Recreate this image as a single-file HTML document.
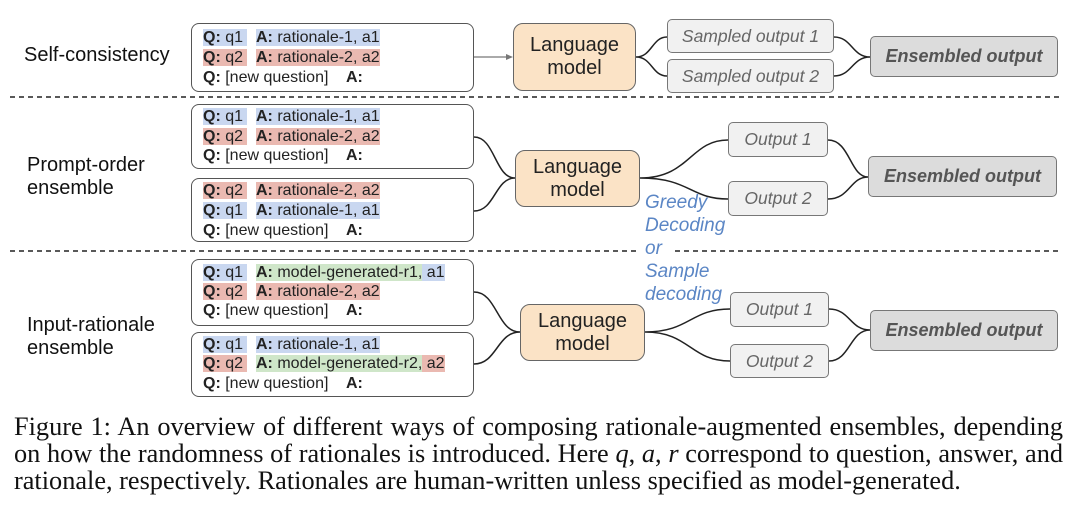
<!DOCTYPE html>
<html><head><meta charset="utf-8"><style>
body{margin:0;width:1080px;height:505px;background:#fff;position:relative;overflow:hidden;font-family:"Liberation Sans",sans-serif;}
.a{position:absolute;}
.box{position:absolute;border:1.5px solid #555;border-radius:8px;box-sizing:border-box;background:#fff;}
.row{position:absolute;font-size:16px;line-height:18px;color:#222;white-space:nowrap;}
.b{background:#c9d7f0}.r{background:#eab9b1}.g{background:#cfe6c9}
.lm{position:absolute;background:#fbe3c6;border:1.5px solid #666;border-radius:10px;box-sizing:border-box;font-size:20px;line-height:23px;text-align:center;color:#222;display:flex;align-items:center;justify-content:center;}
.out{position:absolute;background:#f1f1f1;border:1.5px solid #777;border-radius:5px;box-sizing:border-box;font-style:italic;color:#666;font-size:17.5px;display:flex;align-items:center;justify-content:center;white-space:nowrap;}
.ens{position:absolute;background:#dcdcdc;border:1.5px solid #777;border-radius:5px;box-sizing:border-box;font-style:italic;font-weight:bold;color:#555;font-size:18px;display:flex;align-items:center;justify-content:center;white-space:nowrap;}
.lab{position:absolute;font-size:20px;line-height:23px;color:#111;}
.cap{position:absolute;left:14px;width:1049px;font-family:"Liberation Serif",serif;font-size:26.3px;line-height:27px;color:#111;white-space:nowrap;}
.blue{position:absolute;color:#5b86c5;font-style:italic;font-size:19px;line-height:23px;}
</style></head><body>
<svg class="a" style="left:0;top:0" width="1080" height="505">
<g stroke="#222" stroke-width="1.5" fill="none">
<line x1="10" y1="97" x2="1060" y2="97" stroke-dasharray="5,4"/>
<line x1="10" y1="251" x2="637" y2="251" stroke-dasharray="5,4"/>
<line x1="675" y1="251" x2="1058" y2="251" stroke-dasharray="5,4"/>
<path d="M636 57 C652 57 652 37 667 37 M636 57 C652 57 652 76 667 76"/>
<path d="M834 37 C852 37 852 57 870 57 M834 76 C852 76 852 57 870 57"/>
<path d="M474 137 C495 137 495 178 515 178 M474 211 C495 211 495 178 515 178"/>
<path d="M640 178 C690 178 690 140 728 140 M640 178 C690 178 690 199 728 199"/>
<path d="M828 140 C850 140 850 177 868 177 M828 199 C850 199 850 177 868 177"/>
<path d="M474 292 C497 292 497 332 520 332 M474 364 C497 364 497 332 520 332"/>
<path d="M645 332 C690 332 690 309 730 309 M645 332 C690 332 690 361 730 361"/>
<path d="M829 309 C850 309 850 330 870 330 M829 361 C850 361 850 330 870 330"/>
</g>
<line x1="474" y1="57" x2="508" y2="57" stroke="#777" stroke-width="1.2"/>
<path d="M513 57 L506 54 L506 60 Z" fill="#777"/>
</svg>

<div class="lab" style="left:24px;top:44px">Self-consistency</div>
<div class="lab" style="left:27px;top:154px">Prompt-order<br>ensemble</div>
<div class="lab" style="left:27px;top:314px">Input-rationale<br>ensemble</div>

<div class="box" style="left:191px;top:23px;width:283px;height:69px"></div>
<div class="row" style="left:203px;top:29px"><span class="b"><b>Q:</b> q1&nbsp;</span></div><div class="row" style="left:256px;top:29px"><span class="b"><b>A:</b> rationale-1, a1</span></div>
<div class="row" style="left:203px;top:49px"><span class="r"><b>Q:</b> q2&nbsp;</span></div><div class="row" style="left:256px;top:49px"><span class="r"><b>A:</b> rationale-2, a2</span></div>
<div class="row" style="left:203px;top:69px"><b>Q:</b> [new question]</div><div class="row" style="left:346px;top:69px"><b>A:</b></div>

<div class="box" style="left:191px;top:104px;width:283px;height:65px"></div>
<div class="row" style="left:203px;top:108px"><span class="b"><b>Q:</b> q1&nbsp;</span></div><div class="row" style="left:256px;top:108px"><span class="b"><b>A:</b> rationale-1, a1</span></div>
<div class="row" style="left:203px;top:128px"><span class="r"><b>Q:</b> q2&nbsp;</span></div><div class="row" style="left:256px;top:128px"><span class="r"><b>A:</b> rationale-2, a2</span></div>
<div class="row" style="left:203px;top:147px"><b>Q:</b> [new question]</div><div class="row" style="left:346px;top:147px"><b>A:</b></div>

<div class="box" style="left:191px;top:178px;width:283px;height:64px"></div>
<div class="row" style="left:203px;top:182px"><span class="r"><b>Q:</b> q2&nbsp;</span></div><div class="row" style="left:256px;top:182px"><span class="r"><b>A:</b> rationale-2, a2</span></div>
<div class="row" style="left:203px;top:202px"><span class="b"><b>Q:</b> q1&nbsp;</span></div><div class="row" style="left:256px;top:202px"><span class="b"><b>A:</b> rationale-1, a1</span></div>
<div class="row" style="left:203px;top:222px"><b>Q:</b> [new question]</div><div class="row" style="left:346px;top:222px"><b>A:</b></div>

<div class="box" style="left:191px;top:259px;width:283px;height:67px"></div>
<div class="row" style="left:203px;top:264px"><span class="b"><b>Q:</b> q1&nbsp;</span></div><div class="row" style="left:256px;top:264px"><span class="g"><b>A:</b> model-generated-r1,</span><span class="b"> a1</span></div>
<div class="row" style="left:203px;top:283px"><span class="r"><b>Q:</b> q2&nbsp;</span></div><div class="row" style="left:256px;top:283px"><span class="r"><b>A:</b> rationale-2, a2</span></div>
<div class="row" style="left:203px;top:302px"><b>Q:</b> [new question]</div><div class="row" style="left:346px;top:302px"><b>A:</b></div>

<div class="box" style="left:191px;top:332px;width:283px;height:65px"></div>
<div class="row" style="left:203px;top:336px"><span class="b"><b>Q:</b> q1&nbsp;</span></div><div class="row" style="left:256px;top:336px"><span class="b"><b>A:</b> rationale-1, a1</span></div>
<div class="row" style="left:203px;top:355px"><span class="r"><b>Q:</b> q2&nbsp;</span></div><div class="row" style="left:256px;top:355px"><span class="g"><b>A:</b> model-generated-r2,</span><span class="r"> a2</span></div>
<div class="row" style="left:203px;top:375px"><b>Q:</b> [new question]</div><div class="row" style="left:346px;top:375px"><b>A:</b></div>

<div class="lm" style="left:513px;top:23px;width:123px;height:68px">Language<br>model</div>
<div class="lm" style="left:515px;top:150px;width:125px;height:57px">Language<br>model</div>
<div class="lm" style="left:520px;top:304px;width:125px;height:57px">Language<br>model</div>

<div class="out" style="left:667px;top:19px;width:167px;height:34px">Sampled output 1</div>
<div class="out" style="left:667px;top:59px;width:167px;height:34px">Sampled output 2</div>
<div class="out" style="left:728px;top:122px;width:100px;height:35px">Output 1</div>
<div class="out" style="left:728px;top:181px;width:100px;height:35px">Output 2</div>
<div class="out" style="left:730px;top:292px;width:99px;height:35px">Output 1</div>
<div class="out" style="left:730px;top:344px;width:99px;height:34px">Output 2</div>

<div class="ens" style="left:870px;top:36px;width:188px;height:41px">Ensembled output</div>
<div class="ens" style="left:868px;top:156px;width:189px;height:41px">Ensembled output</div>
<div class="ens" style="left:870px;top:310px;width:188px;height:41px">Ensembled output</div>

<div class="blue" style="left:645px;top:191px">Greedy<br>Decoding<br>or<br>Sample<br>decoding</div>

<div class="cap" style="top:413px;text-align:justify;text-align-last:justify">Figure 1: An overview of different ways of composing rationale-augmented ensembles, depending</div>
<div class="cap" style="top:440px;text-align:justify;text-align-last:justify">on how the randomness of rationales is introduced. Here <i>q</i>, <i>a</i>, <i>r</i> correspond to question, answer, and</div>
<div class="cap" style="top:467px">rationale, respectively. Rationales are human-written unless specified as model-generated.</div>
</body></html>
